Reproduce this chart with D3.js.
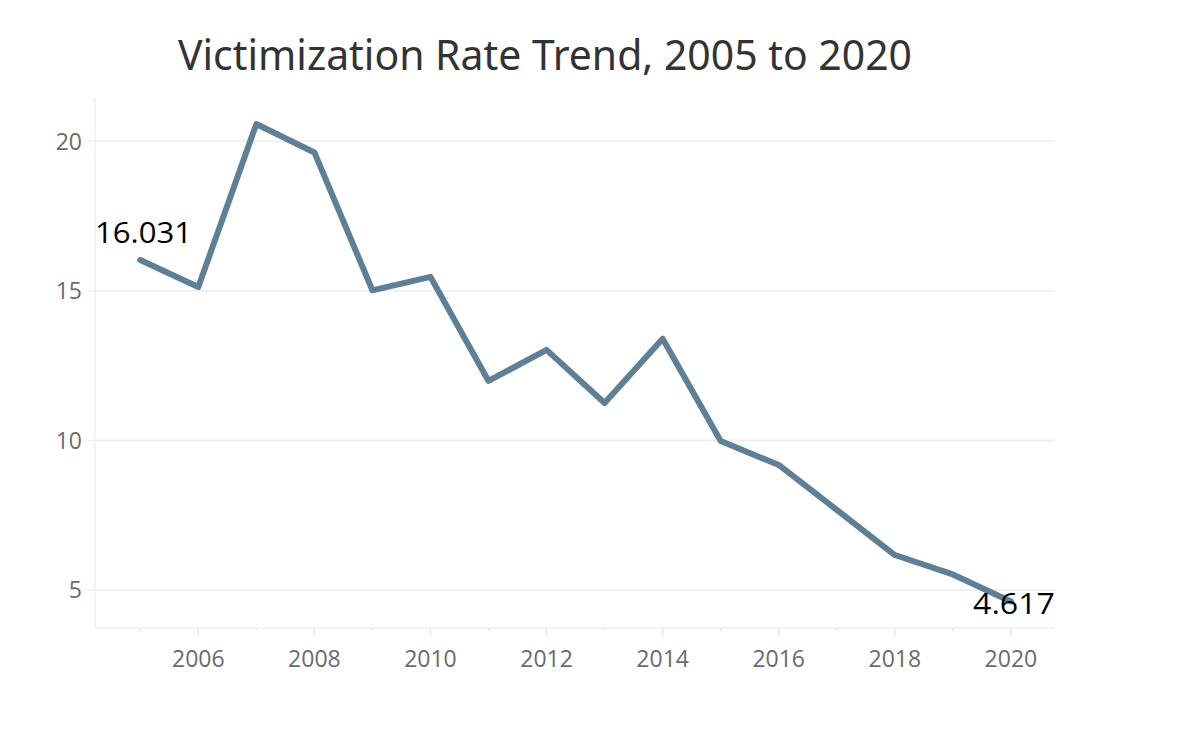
<!DOCTYPE html>
<html><head><meta charset="utf-8">
<script src="https://cdn.jsdelivr.net/npm/d3@7"></script>
<style>body{margin:0;background:#fff;} svg{display:block;}</style>
</head><body>
<svg id="c" width="1188" height="752"></svg>
<script>
const years = [2005,2006,2007,2008,2009,2010,2011,2012,2013,2014,2015,2016,2017,2018,2019,2020];
const rates = [16.031,15.13,20.58,19.63,15.02,15.47,11.99,13.03,11.25,13.40,9.98,9.18,7.68,6.17,5.52,4.617];
const yTicks = [5,10,15,20];
const xTicks = [2006,2008,2010,2012,2014,2016,2018,2020];
const titleText = "Victimization Rate Trend, 2005 to 2020";

const svg = d3.select("#c");
const L=95, R=1055, T=98, B=628;
const x = d3.scaleLinear().domain([2004.22, 2020.76]).range([L, R]);
const y = d3.scaleLinear().domain([3.73, 21.45]).range([B, T]);
const tickFont = "'Open Sans', sans-serif";

// grid
svg.append("g").selectAll("line").data(yTicks).join("line")
  .attr("x1", L).attr("x2", R).attr("y1", d=>y(d)).attr("y2", d=>y(d))
  .attr("stroke", "#f0f0f0").attr("stroke-width", 2);
// axis lines
svg.append("line").attr("x1",L).attr("x2",L).attr("y1",T).attr("y2",B).attr("stroke","#f0f0f0").attr("stroke-width",1.5);
svg.append("line").attr("x1",L).attr("x2",R).attr("y1",B).attr("y2",B).attr("stroke","#f0f0f0").attr("stroke-width",1.5);

// y tick labels
svg.append("g").selectAll("text").data(yTicks).join("text")
  .attr("x", 82).attr("y", d=>y(d)).attr("dy","0.36em").attr("text-anchor","end")
  .attr("font-family",tickFont).attr("font-size",23).attr("fill","#6b6b6b")
  .text(d=>d);
// y ticks
svg.append("g").selectAll("line").data(yTicks).join("line")
  .attr("x1", L-7).attr("x2", L).attr("y1", d=>y(d)).attr("y2", d=>y(d))
  .attr("stroke","#f0f0f0").attr("stroke-width",2);

// x ticks
svg.append("g").selectAll("line").data(years).join("line")
  .attr("x1", d=>x(d)).attr("x2", d=>x(d)).attr("y1", B).attr("y2", d=> d%2===0 ? B+8 : B+3)
  .attr("stroke","#e8e8e8").attr("stroke-width",1.5);
svg.append("g").selectAll("text").data(xTicks).join("text")
  .attr("x", d=>x(d)).attr("y", 667).attr("text-anchor","middle")
  .attr("font-family",tickFont).attr("font-size",23).attr("fill","#6b6b6b")
  .text(d=>d);

// line
const line = d3.line().x((d,i)=>x(years[i])).y(d=>y(d));
svg.append("path").datum(rates).attr("d", line)
  .attr("fill","none").attr("stroke","#5f7f96").attr("stroke-width",6)
  .attr("stroke-linejoin","round").attr("stroke-linecap","round");

// labels
const fmt = v => v.toFixed(3);
svg.append("text").attr("x", 95).attr("y", y(rates[0]) - 17)
  .attr("font-family",tickFont).attr("font-size",29).attr("font-weight",500).attr("fill","#000")
  .attr("textLength", 97).attr("lengthAdjust","spacingAndGlyphs")
  .text(fmt(rates[0]));
svg.append("text").attr("x", 973).attr("y", y(rates[15]) + 13)
  .attr("font-family",tickFont).attr("font-size",29).attr("font-weight",500).attr("fill","#000")
  .attr("textLength", 82).attr("lengthAdjust","spacingAndGlyphs")
  .text(fmt(rates[15]));

// title
svg.append("text").attr("x", 178).attr("y", 70)
  .attr("font-family","'Noto Sans', 'Open Sans', sans-serif").attr("font-size",42).attr("fill","#333")
  .attr("textLength", 734).attr("lengthAdjust","spacingAndGlyphs")
  .text(titleText);
</script>
</body></html>
